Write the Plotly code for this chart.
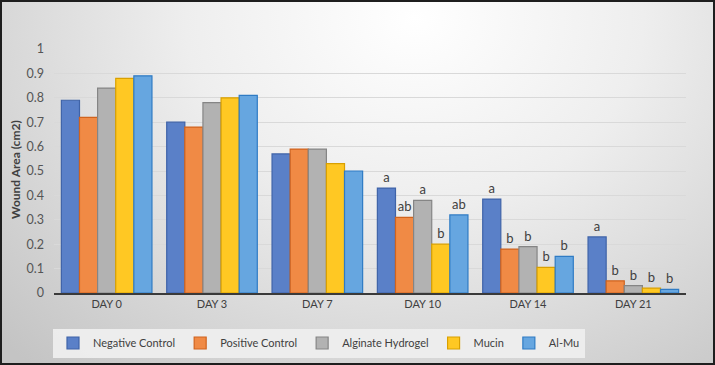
import base64
import plotly.graph_objects as go

days = ["DAY 0", "DAY 3", "DAY 7", "DAY 10", "DAY 14", "DAY 21"]
negative_control = [0.79, 0.70, 0.57, 0.43, 0.385, 0.23]
positive_control = [0.72, 0.68, 0.59, 0.31, 0.18, 0.05]
alginate_hydrogel = [0.84, 0.78, 0.59, 0.38, 0.19, 0.03]
mucin = [0.88, 0.80, 0.53, 0.20, 0.105, 0.02]
al_mu = [0.89, 0.81, 0.50, 0.32, 0.15, 0.015]

neg_letters = ["", "", "", "a", "a", "a"]
pos_letters = ["", "", "", "ab", "b", "b"]
alg_letters = ["", "", "", "a", "b", "b"]
muc_letters = ["", "", "", "b", "b", "b"]
almu_letters = ["", "", "", "ab", "b", "b"]

y_ticks = [0, 0.1, 0.2, 0.3, 0.4, 0.5, 0.6, 0.7, 0.8, 0.9, 1]

series = [
    ("Negative Control", negative_control, neg_letters, "#5A80C8", "#3F63A8"),
    ("Positive Control", positive_control, pos_letters, "#F08A45", "#D0631E"),
    ("Alginate Hydrogel", alginate_hydrogel, alg_letters, "#B2B2B2", "#858585"),
    ("Mucin", mucin, muc_letters, "#FFC823", "#D9A000"),
    ("Al-Mu", al_mu, almu_letters, "#66A6E0", "#2F7BC4"),
]

FONT = "Lato"
W, H = 715, 365
L, R, T, B = 54, 29, 49, 72
PW, PH = W - L - R, H - T - B

fig = go.Figure()
for name, vals, letters, col, edge in series:
    fig.add_trace(go.Bar(
        name=name, x=days, y=vals,
        marker=dict(color=col, line=dict(color=edge, width=1.2)),
        text=letters, textposition="outside",
        textfont=dict(family=FONT, size=13, color="#404040"),
        cliponaxis=False,
    ))

svg = (
    f'<svg xmlns="http://www.w3.org/2000/svg" width="{W}" height="{H}">'
    '<defs><radialGradient id="g" cx="0.58" cy="0.05" r="0.8" '
    'gradientTransform="translate(0.58 0.05) scale(1 1.6) translate(-0.58 -0.05)">'
    '<stop offset="0" stop-color="#ffffff"/><stop offset="0.4" stop-color="#eeeeee"/>'
    '<stop offset="1" stop-color="#c4c4c4"/></radialGradient></defs>'
    f'<rect width="{W}" height="{H}" fill="url(#g)"/></svg>'
)
src = "data:image/svg+xml;base64," + base64.b64encode(svg.encode()).decode()

x0p, x1p = -L / PW, 1 + R / PW
y0p, y1p = -B / PH, 1 + T / PH

fig.update_layout(
    width=W, height=H, autosize=False,
    margin=dict(l=L, r=R, t=T, b=B, pad=0, autoexpand=False),
    barmode="group", bargap=0.14, bargroupgap=0.0,
    paper_bgcolor="#dcdcdc", plot_bgcolor="rgba(0,0,0,0)",
    font=dict(family=FONT, color="#404040"),
    images=[dict(source=src, xref="paper", yref="paper", x=x0p, y=y1p,
                 sizex=x1p - x0p, sizey=y1p - y0p, sizing="stretch",
                 xanchor="left", yanchor="top", layer="below")],
    xaxis=dict(showline=True, linecolor="#3a3a3a", linewidth=2, automargin=False,
               tickfont=dict(family=FONT, size=11, color="#404040"), ticks="",
               showgrid=False, fixedrange=True),
    yaxis=dict(range=[0, 1], tickvals=y_ticks, showgrid=True, gridcolor="#d9d9d9",
               gridwidth=1, zeroline=False, ticklabelstandoff=9, automargin=False,
               tickfont=dict(family=FONT, size=12.5, color="#555555"), fixedrange=True),
    legend=dict(orientation="h", xref="container", yref="container",
                x=319 / W, xanchor="center", y=1 - 343 / H, yanchor="middle",
                bgcolor="rgba(238,238,238,0.95)",
                font=dict(family=FONT, size=11, color="#404040"),
                itemwidth=30, traceorder="normal", tracegroupgap=0),
    annotations=[dict(text="<b>Wound Area (cm2)</b>", textangle=-90, xref="paper",
                      yref="paper", x=(15 - L) / PW, y=(293 - 170) / PH,
                      xanchor="center", yanchor="middle",
                      showarrow=False, font=dict(family=FONT, size=12, color="#404040"))],
    shapes=[dict(type="rect", xref="paper", yref="paper", x0=x0p, x1=x1p,
                 y0=y0p, y1=y1p, line=dict(color="#1e1e1e", width=4), layer="above")],
    showlegend=True,
)

fig.write_html("out.html", config={"displayModeBar": False},
               post_script="document.body.style.margin='0';document.body.style.padding='0';")
